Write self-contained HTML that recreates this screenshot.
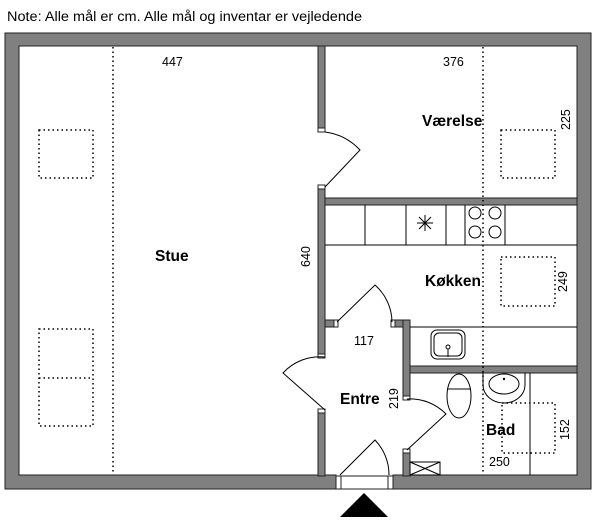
<!DOCTYPE html>
<html><head><meta charset="utf-8"><style>
html,body{margin:0;padding:0;background:#fff;}
svg{display:block;font-family:"Liberation Sans",sans-serif;}
.w{fill:#808080;stroke:#222;stroke-width:1;}
.c{fill:#fff;stroke:#222;stroke-width:1;}
.l{fill:none;stroke:#000;stroke-width:1;}
.d{fill:none;stroke:#000;stroke-width:1.5;stroke-dasharray:1.5 3;}
.b{font-weight:bold;font-size:15.5px;}
.n{font-size:12.5px;}
</style></head><body>
<svg width="600" height="522" viewBox="0 0 600 522" xmlns="http://www.w3.org/2000/svg">
<text x="7" y="21" font-size="13.5" textLength="355" lengthAdjust="spacingAndGlyphs">Note: Alle mål er cm. Alle mål og inventar er vejledende</text>
<path class="w" fill-rule="evenodd" d="M5 33 H591 V489 H393 V476 H336 V489 H5 Z M19 46 V475 H336 V476 H393 V475 H577 V46 Z"/>
<rect x="336" y="476" width="57" height="13" fill="#fff" stroke="#222"/>
<line x1="341" y1="476" x2="341" y2="489" stroke="#222"/>
<line x1="388" y1="476" x2="388" y2="489" stroke="#222"/>
<rect class="w" x="318" y="46" width="7" height="84"/>
<rect class="c" x="318" y="128" width="7" height="4"/>
<rect class="w" x="318" y="187" width="7" height="170"/>
<rect class="c" x="318" y="185" width="7" height="4"/>
<rect class="c" x="318" y="354" width="7" height="4"/>
<rect class="w" x="318" y="410" width="7" height="66"/>
<rect class="c" x="318" y="409" width="7" height="4"/>
<rect class="w" x="325" y="198" width="252" height="7"/>
<rect class="w" x="325" y="320" width="12" height="7"/>
<rect class="c" x="334" y="320" width="4" height="7"/>
<rect class="w" x="392" y="320" width="18" height="7"/>
<rect class="c" x="391" y="320" width="4" height="7"/>
<rect class="w" x="403" y="320" width="7" height="78"/>
<rect class="c" x="403" y="396" width="7" height="4"/>
<rect class="w" x="403" y="450" width="7" height="26"/>
<rect class="c" x="403" y="449" width="7" height="4"/>
<rect class="w" x="410" y="366" width="167" height="7"/>
<line class="l" x1="325" y1="245" x2="577" y2="245"/>
<line class="l" x1="365" y1="205" x2="365" y2="245"/>
<line class="l" x1="406" y1="205" x2="406" y2="245"/>
<line class="l" x1="446" y1="205" x2="446" y2="245"/>
<line class="l" x1="465" y1="205" x2="465" y2="245"/>
<line class="l" x1="505" y1="205" x2="505" y2="245"/>
<path class="l" d="M425 215 V231 M417 223 H433 M419 217 L431 229 M431 217 L419 229"/>
<circle class="l" cx="475" cy="213" r="6"/><circle class="l" cx="495" cy="213" r="6"/>
<circle class="l" cx="475" cy="232" r="6"/><circle class="l" cx="495" cy="232" r="6"/>
<line class="l" x1="410" y1="327" x2="577" y2="327"/>
<rect class="l" x="431" y="330" width="34" height="29" rx="6"/>
<rect class="l" x="434" y="333" width="28" height="23" rx="5"/>
<circle class="l" cx="448" cy="347" r="2"/><line class="l" x1="448" y1="349" x2="448" y2="357"/>
<line class="d" x1="113" y1="47" x2="113" y2="475"/>
<line class="d" x1="483" y1="47" x2="483" y2="475"/>
<rect class="d" x="39" y="130" width="54" height="48"/>
<rect class="d" x="39" y="329" width="54" height="97"/>
<line class="d" x1="39" y1="378" x2="93" y2="378"/>
<rect class="d" x="501" y="130" width="54" height="48"/>
<rect class="d" x="501" y="257" width="54" height="49"/>
<rect class="d" x="502" y="403" width="53" height="50"/>
<line class="l" x1="530" y1="373" x2="530" y2="475"/>
<ellipse class="l" cx="459" cy="396" rx="12" ry="22"/>
<line class="l" x1="447" y1="389" x2="471" y2="389"/>
<path class="l" d="M483 373 V385 A21 18 0 0 0 525 385 V373"/>
<ellipse class="l" cx="504" cy="384" rx="15" ry="10"/>
<circle cx="504" cy="379" r="1.2"/>
<rect class="l" x="410" y="462" width="30" height="13"/>
<path class="l" d="M410 462 L440 475 M440 462 L410 475"/>
<path class="l" d="M325 132 A58 58 0 0 1 360 150 L325 187"/>
<path class="l" d="M337 322 L375 285 A50 50 0 0 1 392 322"/>
<path class="l" d="M325 357 A50 50 0 0 0 283 373 L325 410"/>
<path class="l" d="M407 399 A50 50 0 0 1 446 414 L407 450"/>
<path class="l" d="M340 475 L375 440 A50 50 0 0 1 389 475"/>
<polygon points="340,517 388,517 364,493" fill="#000"/>
<text class="n" x="162" y="66">447</text>
<text class="n" x="443" y="66">376</text>
<text class="b" x="422" y="126">Værelse</text>
<text class="n" transform="translate(570,130) rotate(-90)">225</text>
<text class="b" x="155" y="261">Stue</text>
<text class="n" transform="translate(310,267) rotate(-90)">640</text>
<text class="b" x="425" y="286">Køkken</text>
<text class="n" transform="translate(567,292) rotate(-90)">249</text>
<text class="n" x="354" y="345">117</text>
<text class="b" x="340" y="404">Entre</text>
<text class="n" transform="translate(398,409) rotate(-90)">219</text>
<text class="b" x="486" y="435">Bad</text>
<text class="n" transform="translate(569,440) rotate(-90)">152</text>
<text class="n" x="489" y="466">250</text>
</svg>
</body></html>
